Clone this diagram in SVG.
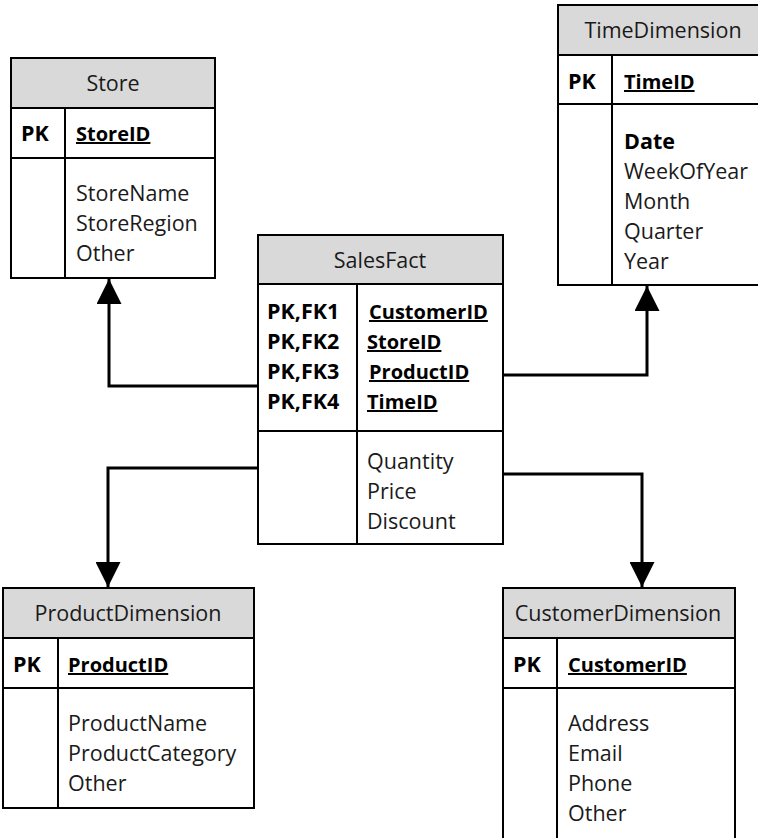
<svg xmlns="http://www.w3.org/2000/svg" width="758" height="838" viewBox="0 0 758 838">
<defs>
<style>
.box{fill:#fff;stroke:#000;stroke-width:2}
.hdr{fill:#d9d9d9;stroke:#000;stroke-width:2}
.ln{stroke:#000;stroke-width:2;fill:none}
.t{font-family:"Open Sans","Noto Sans","Liberation Sans",sans-serif;font-size:21.5px;fill:#1a1a1a}
.b{font-weight:bold;fill:#000}
.u{text-decoration:underline;font-size:20px}
.c{text-anchor:middle}
.conn{stroke:#000;stroke-width:3;fill:none}
</style>
<marker id="arr" viewBox="0 0 25 25" refX="25" refY="12.5" markerWidth="25" markerHeight="25" markerUnits="userSpaceOnUse" orient="auto">
<path d="M0,0 L25,12.5 L0,25 Z" fill="#000"/>
</marker>
</defs>

<g id="connectors">
<path class="conn" d="M258,386 H109 V279" marker-end="url(#arr)"/>
<path class="conn" d="M503,375 H647 V286" marker-end="url(#arr)"/>
<path class="conn" d="M258,468 H108 V587" marker-end="url(#arr)"/>
<path class="conn" d="M503,474 H642 V587" marker-end="url(#arr)"/>
</g>

<g id="Store">
<rect class="box" x="11" y="58" width="204" height="220"/>
<rect class="hdr" x="11" y="58" width="204" height="50"/>
<line class="ln" x1="11" y1="158" x2="215" y2="158"/>
<line class="ln" x1="65" y1="108" x2="65" y2="278"/>
<text class="t c" x="113" y="91">Store</text>
<text class="t b" x="21" y="141">PK</text>
<text class="t b u" x="76" y="141">StoreID</text>
<text class="t" x="76" y="201">StoreName</text>
<text class="t" x="76" y="231">StoreRegion</text>
<text class="t" x="76" y="261">Other</text>
</g>

<g id="TimeDimension">
<rect class="box" x="558" y="5" width="204" height="280"/>
<rect class="hdr" x="558" y="5" width="204" height="50"/>
<line class="ln" x1="558" y1="104" x2="762" y2="104"/>
<line class="ln" x1="612" y1="55" x2="612" y2="285"/>
<text class="t c" x="663" y="38">TimeDimension</text>
<text class="t b" x="568" y="89">PK</text>
<text class="t b u" x="624" y="89">TimeID</text>
<text class="t b" x="624" y="149">Date</text>
<text class="t" x="624" y="179">WeekOfYear</text>
<text class="t" x="624" y="209">Month</text>
<text class="t" x="624" y="239">Quarter</text>
<text class="t" x="624" y="269">Year</text>
</g>

<g id="SalesFact">
<rect class="box" x="258" y="235" width="245" height="309"/>
<rect class="hdr" x="258" y="235" width="245" height="49"/>
<line class="ln" x1="258" y1="431" x2="503" y2="431"/>
<line class="ln" x1="357" y1="284" x2="357" y2="544"/>
<text class="t c" x="380" y="268">SalesFact</text>
<text class="t b" x="267" y="319">PK,FK1</text>
<text class="t b" x="267" y="349">PK,FK2</text>
<text class="t b" x="267" y="379">PK,FK3</text>
<text class="t b" x="267" y="409">PK,FK4</text>
<text class="t b u" x="369" y="319">CustomerID</text>
<text class="t b u" x="367" y="349">StoreID</text>
<text class="t b u" x="369" y="379">ProductID</text>
<text class="t b u" x="367" y="409">TimeID</text>
<text class="t" x="367" y="469">Quantity</text>
<text class="t" x="367" y="499">Price</text>
<text class="t" x="367" y="529">Discount</text>
</g>

<g id="ProductDimension">
<rect class="box" x="3" y="588" width="251" height="220"/>
<rect class="hdr" x="3" y="588" width="251" height="50"/>
<line class="ln" x1="3" y1="688" x2="254" y2="688"/>
<line class="ln" x1="58" y1="638" x2="58" y2="808"/>
<text class="t c" x="128" y="621">ProductDimension</text>
<text class="t b" x="13" y="672">PK</text>
<text class="t b u" x="68" y="672">ProductID</text>
<text class="t" x="68" y="731">ProductName</text>
<text class="t" x="68" y="761">ProductCategory</text>
<text class="t" x="68" y="791">Other</text>
</g>

<g id="CustomerDimension">
<rect class="box" x="503" y="588" width="232" height="260"/>
<rect class="hdr" x="503" y="588" width="232" height="50"/>
<line class="ln" x1="503" y1="688" x2="735" y2="688"/>
<line class="ln" x1="557" y1="638" x2="557" y2="848"/>
<text class="t c" x="618" y="621">CustomerDimension</text>
<text class="t b" x="513" y="672">PK</text>
<text class="t b u" x="568" y="672">CustomerID</text>
<text class="t" x="568" y="731">Address</text>
<text class="t" x="568" y="761">Email</text>
<text class="t" x="568" y="791">Phone</text>
<text class="t" x="568" y="821">Other</text>
</g>
</svg>
